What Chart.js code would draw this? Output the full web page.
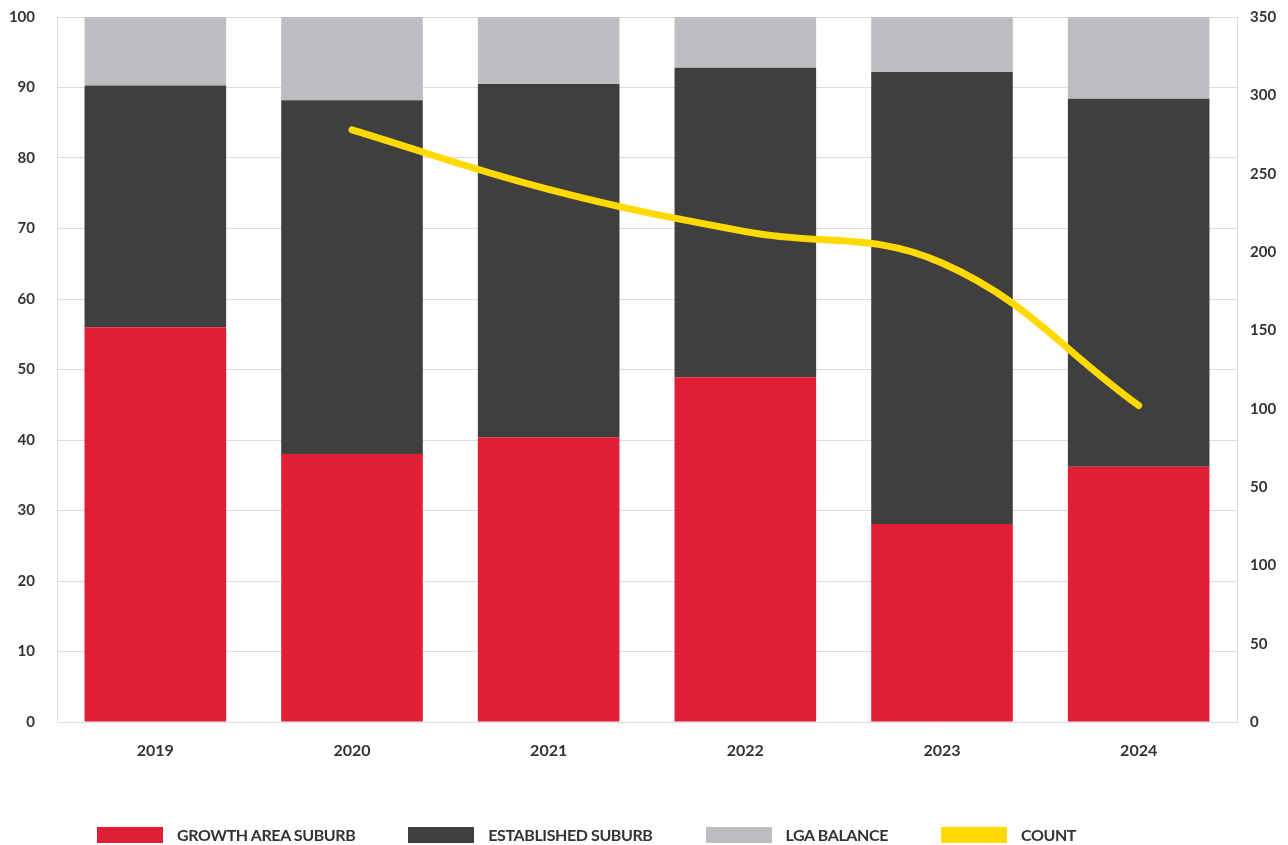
<!DOCTYPE html>
<html>
<head>
<meta charset="utf-8">
<script src="https://cdn.jsdelivr.net/npm/chart.js@4/dist/chart.umd.min.js"></script>
<style>
    body { margin: 0; background: #fff; font-family: Lato, sans-serif; }
    #wrap { position: relative; width: 1288px; height: 845px; }
    #legend { position: absolute; left: 97px; top: 827px; display: flex; align-items: center; }
    .item { display: flex; align-items: center; margin-right: 53px; }
    .box { width: 66px; height: 16px; margin-right: 14px; }
    .label { font: 700 16px Lato, sans-serif; color: #333; letter-spacing: -0.4px; line-height: 16px; }
</style>
</head>
<body>
<div id="wrap">
    <canvas id="mychart" width="1288" height="845"></canvas>
    <div id="legend"></div>
</div>
<script>
const years = ['2019', '2020', '2021', '2022', '2023', '2024'];
const growthArea = [56.0, 38.0, 40.4, 48.9, 28.1, 36.2];
const established = [34.3, 50.2, 50.1, 43.9, 64.1, 52.2];
const lgaBalance = [9.7, 11.8, 9.5, 7.2, 7.8, 11.6];
const count = [null, 278, 240, 213, 193, 102];
const leftTicks = [0, 10, 20, 30, 40, 50, 60, 70, 80, 90, 100];
// right axis labels as printed, bottom to top
const rightTickLabels = ['0', '50', '100', '50', '100', '150', '200', '250', '300', '350'];

const tickFont = { family: 'Lato', weight: 'bold', size: 15 };
const gridColor = '#dcdcdc';

let ctx = document.getElementById('mychart').getContext('2d');

let chart = new Chart(ctx, {
    type: 'bar',
    data: {
        labels: years,
        datasets: [{
            label: 'GROWTH AREA SUBURB',
            data: growthArea,
            backgroundColor: '#E01E36',
            yAxisID: 'y',
            order: 1
        }, {
            label: 'ESTABLISHED SUBURB',
            data: established,
            backgroundColor: '#3F3F3F',
            yAxisID: 'y',
            order: 1
        }, {
            label: 'LGA BALANCE',
            data: lgaBalance,
            backgroundColor: '#BDBEC2',
            yAxisID: 'y',
            order: 1
        }, {
            type: 'line',
            label: 'COUNT',
            data: count,
            borderColor: '#FFDA00',
            backgroundColor: '#FFDA00',
            borderWidth: 7,
            borderCapStyle: 'round',
            tension: 0.4,
            pointRadius: 0,
            yAxisID: 'y2',
            order: 0
        }]
    },
    options: {
        responsive: false,
        animation: false,
        layout: { padding: { top: 17, left: 0, right: 0, bottom: 0 } },
        datasets: { bar: { categoryPercentage: 1, barPercentage: 0.72 } },
        plugins: { legend: { display: false }, tooltip: { enabled: false } },
        scales: {
            x: {
                stacked: true,
                grid: { display: false, drawTicks: false },
                border: { color: gridColor },
                ticks: { color: '#333', font: { family: 'Lato', weight: 'bold', size: 16 }, padding: 19 },
                afterFit: (scale) => { scale.height = 123; }
            },
            y: {
                stacked: true,
                position: 'left',
                min: 0,
                max: 100,
                afterBuildTicks: (scale) => { scale.ticks = leftTicks.map(v => ({ value: v })); },
                grid: { color: gridColor, drawTicks: false },
                border: { color: gridColor },
                ticks: { color: '#333', font: tickFont, padding: 22 },
                afterFit: (scale) => {
                    scale.width = 57;
                    scale.paddingTop = 0;
                    scale.paddingBottom = 0;
                }
            },
            y2: {
                position: 'right',
                min: -100,
                max: 350,
                ticks: {
                    stepSize: 50,
                    color: '#333',
                    font: tickFont,
                    padding: 13,
                    callback: (value, index) => rightTickLabels[index]
                },
                grid: { display: false, drawTicks: false },
                border: { color: gridColor },
                afterFit: (scale) => {
                    scale.width = 51;
                    scale.paddingTop = 0;
                    scale.paddingBottom = 0;
                }
            }
        }
    }
});

// legend built from the chart's datasets
let legend = document.getElementById('legend');
chart.data.datasets.forEach(ds => {
    legend.innerHTML += `<div class="item"><div class="box" style="background:${ds.backgroundColor}"></div><span class="label">${ds.label}</span></div>`;
});
</script>
</body>
</html>
